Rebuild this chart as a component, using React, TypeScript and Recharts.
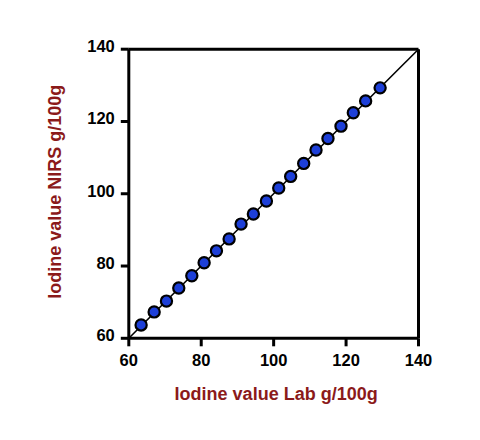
import React from 'react';
import { ScatterChart, Scatter, XAxis, YAxis, ReferenceLine, Label } from 'recharts';

const labValues = [63.4, 67.0, 70.4, 73.8, 77.4, 80.8, 84.2, 87.7, 91.0, 94.4, 98.0, 101.4, 104.7, 108.3, 111.7, 115.0, 118.6, 122.0, 125.4, 129.4];
const nirsValues = [63.7, 67.3, 70.3, 73.9, 77.3, 80.9, 84.2, 87.5, 91.6, 94.4, 98.0, 101.6, 104.8, 108.4, 112.1, 115.3, 118.7, 122.4, 125.7, 129.3];
const axisTicks = [60, 80, 100, 120, 140];
const axisDomain = [60, 140];
const xTitle = 'Iodine value Lab g/100g';
const yTitle = 'Iodine value NIRS g/100g';

const points = labValues.map((x, i) => ({ x, y: nirsValues[i] }));

const FONT = '"Liberation Sans", Arial, Helvetica, sans-serif';
const TITLE_COLOR = '#8B1A1A';
const TICK_FS = 16.5;
const TITLE_FS = 18;

const XTitle = (props: any) => {
  const vb = props.viewBox || {};
  const cx = vb.x + vb.width / 2 + 2.5;
  return (
    <text x={cx} y={392} textAnchor="middle" fill={TITLE_COLOR} style={{ fontFamily: FONT, fontWeight: 'bold', fontSize: TITLE_FS }}>
      {xTitle}
    </text>
  );
};

const YTitle = (props: any) => {
  const vb = props.viewBox || {};
  const cx = 47;
  const cy = vb.y + vb.height / 2 - 2;
  return (
    <text x={cx} y={cy} transform={`rotate(-90 ${cx} ${cy})`} textAnchor="middle" dominantBaseline="central" fill={TITLE_COLOR} style={{ fontFamily: FONT, fontWeight: 'bold', fontSize: TITLE_FS }}>
      {yTitle}
    </text>
  );
};

const XTick = (props: any) => (
  <text x={props.x} y={props.y} dy="0.71em" textAnchor="middle" fill="#000" style={{ fontFamily: FONT, fontWeight: 'bold', fontSize: TICK_FS }}>
    {props.payload.value}
  </text>
);

const YTick = (props: any) => (
  <text x={props.x} y={props.y - 3} dy="0.355em" textAnchor="end" fill="#000" style={{ fontFamily: FONT, fontWeight: 'bold', fontSize: TICK_FS }}>
    {props.payload.value}
  </text>
);

export default function App() {
  return (
    <div style={{ width: 480, height: 440 }}>
      <ScatterChart width={480} height={440} margin={{ top: 41.2, right: 69.5, left: 60, bottom: 40 }}>
        <XAxis
          type="number"
          dataKey="x"
          domain={axisDomain}
          ticks={axisTicks}
          allowDataOverflow
          height={69.7}
          axisLine={{ stroke: '#000', strokeWidth: 3 }}
          tickLine={{ stroke: '#000', strokeWidth: 3 }}
          tickSize={8}
          tickMargin={8}
          tick={<XTick />}
        >
          <Label content={<XTitle />} />
        </XAxis>
        <YAxis
          type="number"
          dataKey="y"
          domain={axisDomain}
          ticks={axisTicks}
          allowDataOverflow
          width={60.8}
          axisLine={{ stroke: '#000', strokeWidth: 3 }}
          tickLine={{ stroke: '#000', strokeWidth: 3 }}
          tickSize={8}
          tickMargin={6}
          tick={<YTick />}
        >
          <Label content={<YTitle />} />
        </YAxis>
        <ReferenceLine y={axisDomain[1]} stroke="#000" strokeWidth={3} />
        <ReferenceLine x={axisDomain[1]} stroke="#000" strokeWidth={3} />
        <ReferenceLine
          segment={[{ x: axisDomain[0], y: axisDomain[0] }, { x: axisDomain[1], y: axisDomain[1] }]}
          stroke="#000"
          strokeWidth={1.6}
        />
        <Scatter
          data={points}
          isAnimationActive={false}
          shape={(p: any) => (
            <circle cx={p.cx} cy={p.cy} r={5.6} fill="#1d3fd8" stroke="#000" strokeWidth={2.2} />
          )}
        />
      </ScatterChart>
    </div>
  );
}
